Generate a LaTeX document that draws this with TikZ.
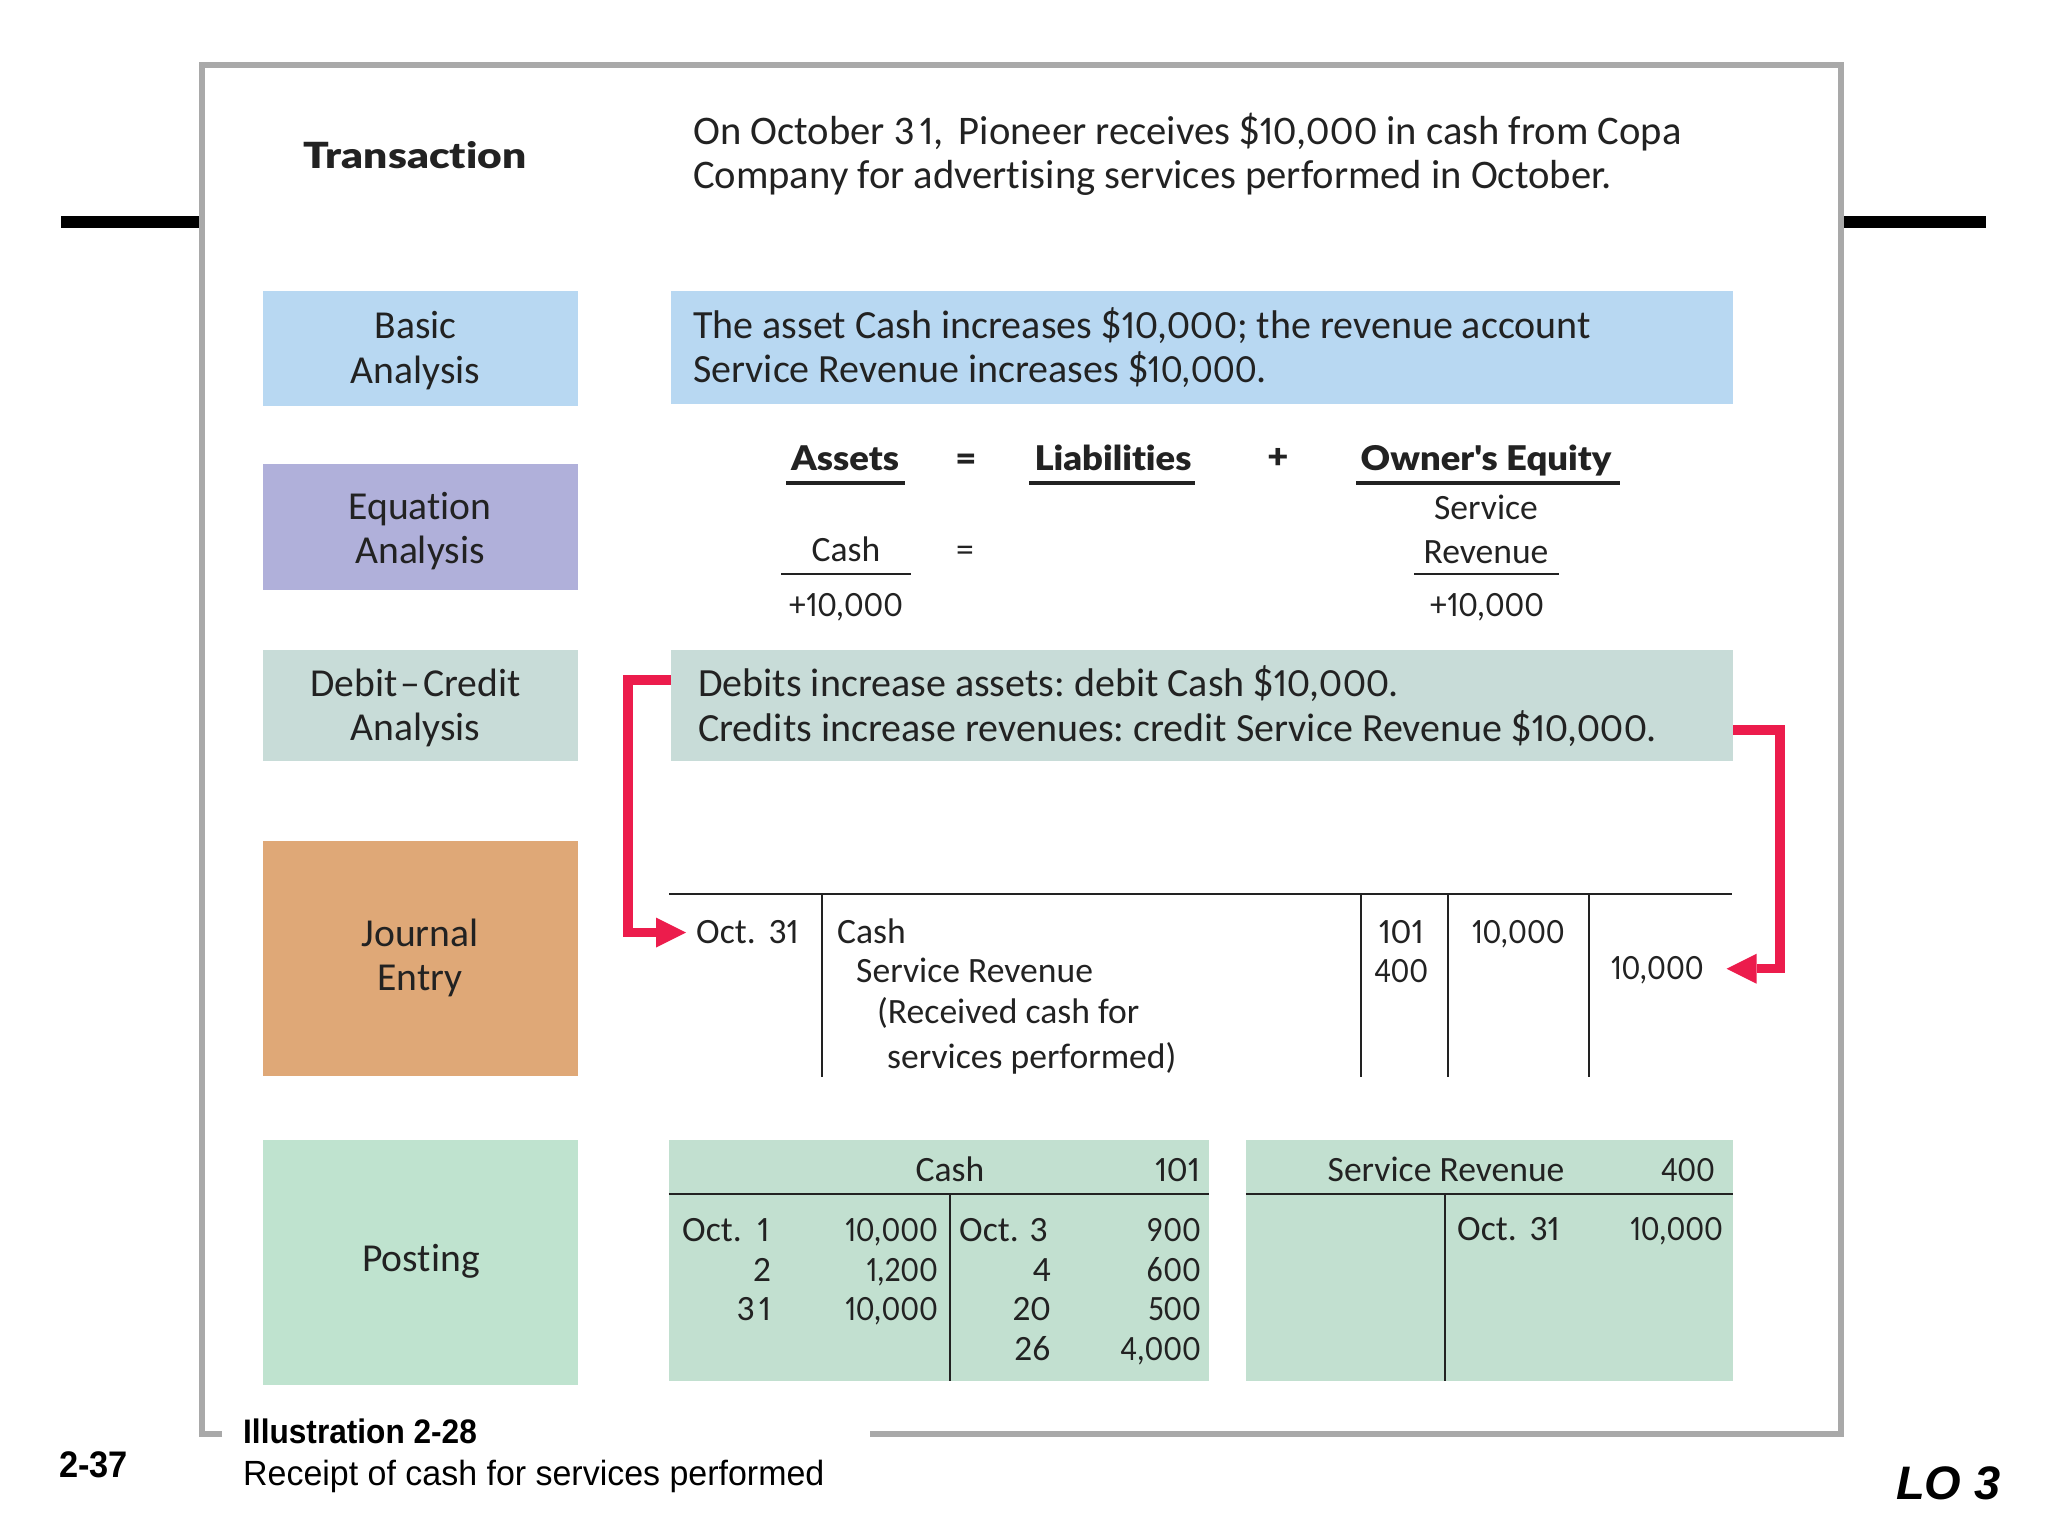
\documentclass[tikz,border=0pt]{standalone}
\usepackage{fontspec}
\usetikzlibrary{arrows.meta}
\setmainfont{Carlito}[Numbers=Proportional,Ligatures=CommonOff]
\newfontfamily\numf{Carlito}[Numbers=Proportional,FakeStretch=0.9]
\newfontfamily\numg{Carlito}[Numbers=Proportional,FakeStretch=0.94]
\newcommand{\nmA}[1]{{\numf #1}}
\newcommand{\nmB}[1]{{\numg #1}}
\newfontfamily\heavyfont{Lato}[BoldFont={Lato Black},FakeStretch=1.07,Ligatures=CommonOff]
\newfontfamily\transfont{Lato}[BoldFont={Lato Black},FakeStretch=1.18,Ligatures=CommonOff]
\newfontfamily\capfont[FakeStretch=0.97]{Liberation Sans}
\newfontfamily\capbfont[FakeStretch=0.93]{Liberation Sans}
\newfontfamily\lofont{Liberation Sans}
\definecolor{framegray}{HTML}{A9A9A9}
\definecolor{boxblue}{HTML}{B8D8F2}
\definecolor{boxviolet}{HTML}{B0B0DA}
\definecolor{boxgray}{HTML}{C8DCD8}
\definecolor{boxorange}{HTML}{DFA877}
\definecolor{boxgreen}{HTML}{BFE3CF}
\definecolor{tablegreen}{HTML}{C2E0D0}
\definecolor{arrowred}{HTML}{EC1C4C}
\definecolor{ink}{HTML}{222222}
\frenchspacing
\tikzset{
  x=1pt,y=-1pt,
  sidebox/.style={draw=none,inner sep=0,minimum width=315pt},
  sidetext/.style={inner sep=0,align=center,text=ink,font=\fontsize{39.6}{44.5}\selectfont},
  widebox/.style={draw=none,inner sep=0,minimum width=1062pt},
  widetext/.style={inner sep=0,align=left,anchor=west,text=ink,font=\fontsize{40}{44.5}\selectfont},
  line/.style={anchor=base west,inner sep=0,text=ink,font=\fontsize{40.6}{44.5}\selectfont},
  cell/.style={inner sep=0,text=ink,font=\fontsize{35.6}{40}\selectfont},
  lcell/.style={cell,anchor=base west},
  rcell/.style={cell,anchor=base east},
  ccell/.style={cell,anchor=base},
  head/.style={inner sep=0,anchor=base,text=ink,font=\heavyfont\bfseries\fontsize{34}{40}\selectfont},
  rule/.style={draw=ink,line width=1.6pt},
  thickrule/.style={draw=ink,line width=3.6pt},
  redarrow/.style={draw=arrowred,line width=9.5pt,miter limit=10,-{Triangle[length=30pt,width=30pt,line width=0pt]}},
  capt/.style={inner sep=0,anchor=base west,text=black,font=\capfont\fontsize{35}{40}\selectfont},
  captb/.style={inner sep=0,anchor=base west,text=black,font=\capbfont\bfseries\fontsize{34}{40}\selectfont},
}
\begin{document}
\begin{tikzpicture}
\useasboundingbox (0,0) rectangle (2048,1536);
\fill[white] (0,0) rectangle (2048,1536);
% black bars and frame
\coordinate (barLa) at (61,222);
\coordinate (barLb) at (202,222);
\coordinate (barRa) at (1840,222);
\coordinate (barRb) at (1986,222);
\draw[black,line width=12pt] (barLa) -- (barLb);
\draw[black,line width=12pt] (barRa) -- (barRb);
\coordinate (fa) at (222,1434);
\coordinate (fb) at (202,1434);
\coordinate (fc) at (202,65);
\coordinate (fd) at (1841,65);
\coordinate (fe) at (1841,1434);
\coordinate (ff) at (870,1434);
\draw[framegray,line width=6.5pt] (fa) -- (fb) -- (fc) -- (fd) -- (fe) -- (ff);
% transaction
\node[inner sep=0,anchor=base,text=ink,font=\transfont\bfseries\fontsize{36}{40}\selectfont] (trans) at (415,168) {Transaction};
\node[line] (t1) at (693,145) {On October 3\kern6pt 1,\kern6pt\ Pioneer receives \$10,000 in cash from Copa};
\node[line] (t2) at (693,188) {Company for advertising services performed in October.};
% left boxes
\node[sidebox,fill=boxblue,minimum height=115pt] (basic) at (420,348) {};
\node[sidetext] (basicT) at (415.5,350.6) {Basic\\Analysis};
\node[sidebox,fill=boxviolet,minimum height=126pt] (equation) at (420,527) {};
\node[sidetext] (equationT) at (420,531) {Equation\\Analysis};
\node[sidebox,fill=boxgray,minimum height=111pt] (debit) at (420,705) {};
\node[sidetext] (debitT) at (415.5,708) {Debit\kern3pt–\kern3pt Credit\\Analysis};
\node[sidebox,fill=boxorange,minimum height=235pt] (journal) at (420,958) {};
\node[sidetext] (journalT) at (420,958) {Journal\\Entry};
\node[sidebox,fill=boxgreen,minimum height=245pt] (posting) at (420,1262.5) {};
\node[sidetext] (postingT) at (421,1261) {Posting};
% wide boxes
\node[widebox,fill=boxblue,minimum height=113pt] (rbasic) at (1202,347.5) {};
\node[widetext] (rbasicT) at (693,347.7) {The asset Cash increases \$10,000; the revenue account\\Service Revenue increases \$\nmB{10,000}.};
\node[widebox,fill=boxgray,minimum height=111pt] (rdebit) at (1202,705) {};
\node[widetext] (rdebitT) at (698,706) {Debits increase assets: debit Cash \$10,000.\\Credits increase revenues: credit Service Revenue \$10,000.};
% equation
\node[head] (assets) at (845,470) {Assets};
\node[head] (eq1) at (966,470) {=};
\node[head] (liab) at (1113,470) {Liabilities};
\node[head] (plus) at (1278,468) {+};
\node[head] (equity) at (1486,470) {Owner's Equity};
\coordinate (ua) at (786,483); \coordinate (ub) at (905,483);
\coordinate (uc) at (1029,483); \coordinate (ud) at (1195,483);
\coordinate (ue) at (1356,483); \coordinate (uf) at (1620,483);
\draw[thickrule] (ua) -- (ub);
\draw[thickrule] (uc) -- (ud);
\draw[thickrule] (ue) -- (uf);
\node[ccell] (srv) at (1486,519) {Service};
\node[ccell] (rev) at (1486,563) {Revenue};
\node[ccell] (cash) at (846,561.5) {Cash};
\node[ccell] (eq2) at (965,561) {=};
\coordinate (la) at (781,574); \coordinate (lb) at (911,574);
\coordinate (lc) at (1414,574); \coordinate (ld) at (1559,574);
\draw[rule] (la) -- (lb);
\draw[rule] (lc) -- (ld);
\node[ccell] (pa) at (846,616) {\nmB{+10,000}};
\node[ccell] (pb) at (1487,616) {\nmB{+10,000}};
% journal
\coordinate (jl) at (669,894); \coordinate (jr) at (1732,894);
\draw[rule] (jl) -- (jr);
\foreach \n/\x in {a/822,b/1361,c/1448,d/1589}{
  \coordinate (jt\n) at (\x,894); \coordinate (jb\n) at (\x,1077);
  \draw[rule] (jt\n) -- (jb\n);
}
\node[lcell] (oct) at (696,943) {Oct.\kern5pt\ 31};
\node[lcell] (jcash) at (837,943) {Cash};
\node[lcell] (jsrv) at (856,982) {Service Revenue};
\node[lcell] (jrec) at (877,1023) {(Received cash for};
\node[lcell] (jper) at (887,1068) {services performed)};
\node[ccell] (r101) at (1401,943) {101};
\node[ccell] (r400) at (1401,982) {\nmA{400}};
\node[ccell] (dr) at (1518,943) {\nmA{10,000}};
\node[ccell] (cr) at (1657,979) {\nmA{10,000}};
% red arrows
\coordinate (al) at (rdebit.west |- 0,680);
\coordinate (ar) at (rdebit.east |- 0,730);
\coordinate (alx) at (628,680);
\coordinate (arx) at (1780,730);
\draw[redarrow] (al) -- (alx) |- ([xshift=-10pt,yshift=-1pt]oct.west);
\draw[redarrow] (ar) -- (arx) |- ([xshift=23pt,yshift=1pt]cr.east);
% posting tables
\node[fill=tablegreen,inner sep=0,minimum width=540pt,minimum height=241pt] (tl) at (939,1260.5) {};
\node[fill=tablegreen,inner sep=0,minimum width=487pt,minimum height=241pt] (tr) at (1489.5,1260.5) {};
\coordinate (tla) at (tl.west |- 0,1194); \coordinate (tlb) at (tl.east |- 0,1194);
\coordinate (tra) at (tr.west |- 0,1194); \coordinate (trb) at (tr.east |- 0,1194);
\coordinate (tlc) at (950,1194); \coordinate (tld) at (950,1381);
\coordinate (trc) at (1445,1194); \coordinate (trd) at (1445,1381);
\draw[rule] (tla) -- (tlb);
\draw[rule] (tra) -- (trb);
\draw[rule] (tlc) -- (tld);
\draw[rule] (trc) -- (trd);
\node[ccell] (pcash) at (950,1181) {Cash};
\node[rcell] (p101) at (1200,1181) {101};
\node[ccell] (psrv) at (1446,1181) {Service Revenue};
\node[rcell] (p400) at (1715,1181) {\nmA{400}};
\node[lcell] (l1) at (682,1241) {Oct.\kern7pt\ 1};
\node[rcell] (l2) at (771,1281) {2};
\node[rcell] (l3) at (771,1320) {3\kern4pt 1};
\node[rcell] (a1) at (938,1241) {\nmA{10,000}};
\node[rcell] (a2) at (938,1281) {\nmA{1,200}};
\node[rcell] (a3) at (938,1320) {\nmA{10,000}};
\node[lcell] (m1) at (959,1241) {Oct.\kern3pt\ 3};
\node[rcell] (m2) at (1051,1281) {4};
\node[rcell] (m3) at (1051,1320) {20};
\node[rcell] (m4) at (1051,1360) {26};
\node[rcell] (b1) at (1201,1241) {\nmA{900}};
\node[rcell] (b2) at (1201,1281) {\nmA{600}};
\node[rcell] (b3) at (1201,1320) {\nmA{500}};
\node[rcell] (b4) at (1201,1360) {\nmA{4,000}};
\node[lcell] (s1) at (1457,1240) {Oct.\kern5pt\ 31};
\node[rcell] (s2) at (1723,1240) {\nmA{10,000}};
% caption
\node[captb] (il) at (243,1443) {Illustration 2-28};
\node[capt] (ct) at (243,1485) {Receipt of cash for services performed};
\node[captb,font=\capbfont\bfseries\fontsize{37}{40}\selectfont] (pg) at (59,1477) {2-37};
\node[inner sep=0,anchor=base west,text=black,font=\lofont\itshape\bfseries\fontsize{47}{50}\selectfont] (lo) at (1896,1499) {LO 3};
\end{tikzpicture}
\end{document}
